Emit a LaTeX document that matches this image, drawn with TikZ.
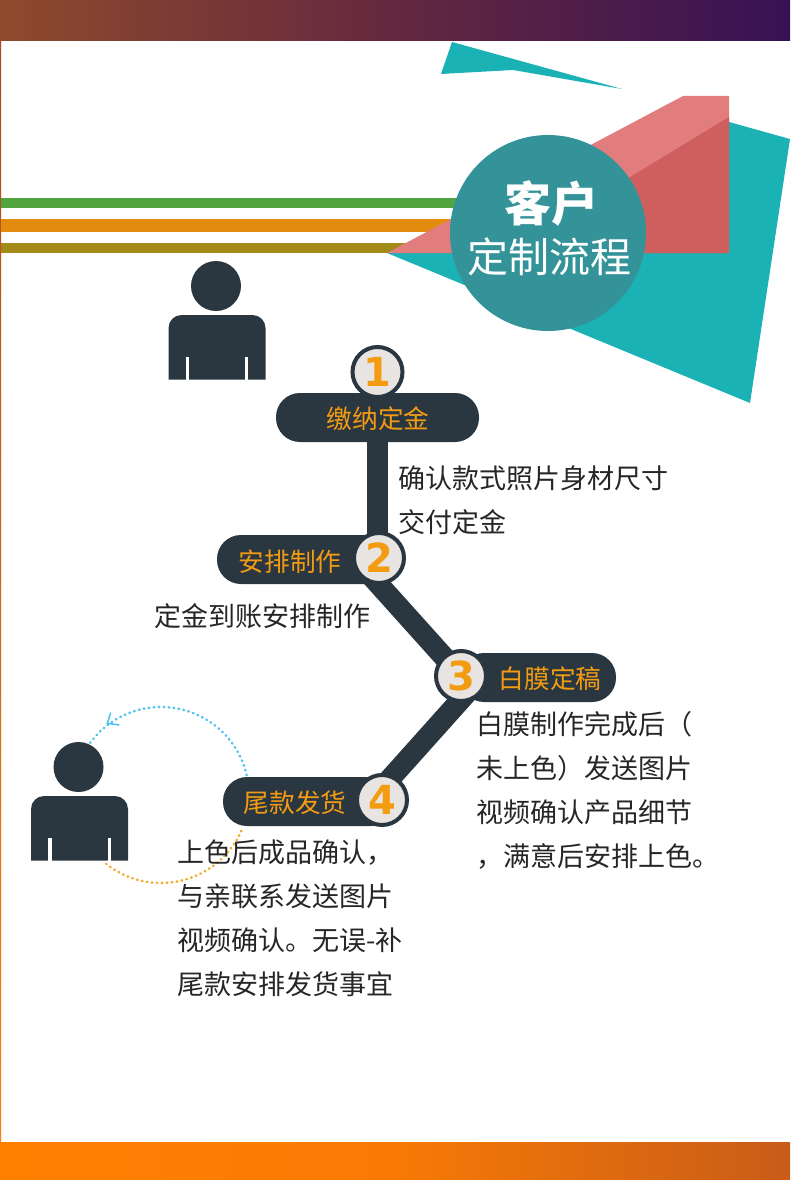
\documentclass[tikz,border=0pt]{standalone}
\usepackage{fontspec}
\usetikzlibrary{backgrounds}
\setmainfont{Noto Sans CJK SC}
\newfontfamily\numfont{DejaVu Sans}
\newcommand{\fsize}[2]{\fontsize{#1}{#2}\selectfont}
\newcommand{\person}[2]{\begin{scope}[shift={(#1,#2)}]\fill[darkslate](-1,-74)circle(25pt);\fill[darkslate](-48.5,19.5)--(-48.5,-32)arc[start angle=180,end angle=90,radius=13pt]--(35.5,-45)arc[start angle=90,end angle=0,radius=13pt]--(48.5,19.5)--cycle;\fill[white](-31.3,-3)rectangle(-28,20);\fill[white](28,-3)rectangle(31.3,20);\end{scope}}
\definecolor{darkslate}{HTML}{2A3640}
\definecolor{stepgold}{HTML}{F39C12}
\definecolor{tealbright}{HTML}{1AB2B5}
\definecolor{tealdeep}{HTML}{339398}
\definecolor{rosepale}{HTML}{E27D7D}
\definecolor{rosedark}{HTML}{CF5F5F}
\definecolor{discfill}{HTML}{E8E4E2}
\definecolor{dotblue}{HTML}{50C3EE}
\definecolor{dotgold}{HTML}{F5AA32}
\definecolor{stripegreen}{HTML}{50A541}
\definecolor{stripegold}{HTML}{E28B0F}
\definecolor{stripeolive}{HTML}{A38918}
\definecolor{headleft}{HTML}{8F4A2C}
\definecolor{headmid}{HTML}{64283F}
\definecolor{headright}{HTML}{371255}
\definecolor{footleft}{HTML}{FF8000}
\definecolor{footmid}{HTML}{F87A05}
\definecolor{footright}{HTML}{C85C18}
\definecolor{edgetop}{HTML}{AF461E}
\tikzset{
pill/.style={fill=darkslate,rounded corners=24pt,minimum height=49pt,inner sep=0pt},
numdisc/.style={circle,draw=darkslate,line width=4pt,fill=discfill,minimum size=50pt,inner sep=0pt,text=stepgold,font=\numfont\bfseries\fsize{40}{40}},
pilltext/.style={text=stepgold,inner sep=0pt,font=\fsize{25.7}{26}},
bodytext/.style={anchor=west,align=left,inner sep=0pt,text=black!85,font=\fsize{27}{44}},
spine/.style={draw=darkslate,line width=21pt},
dotline/.style={line width=2.6pt,line cap=round,dash pattern=on 0.6pt off 4.4pt}
}
\begin{document}
\begin{tikzpicture}[x=1pt,y=-1pt]
\useasboundingbox(0,0)rectangle(790,1180);
\shade[left color=headleft,right color=headright,middle color=headmid](0,0)rectangle(790,41);
\shade[left color=footleft,right color=footright,middle color=footmid](0,1142)rectangle(790,1180);
\shade[top color=edgetop,bottom color=footleft](0,41)rectangle(1,1142);
\fill[stripegreen](1,197.5)rectangle(470,207.5);\fill[stripegold](1,219)rectangle(470,232);\fill[stripeolive](1,243)rectangle(470,253);
\fill[tealbright](441,74)--(452,42)--(622,89)--(513,70)--cycle;
\fill[tealbright](387,253)--(729,122)--(790,139)--(750,403)--cycle;
\fill[rosepale](387,253)--(683,96)--(729,96)--(729,253)--cycle;
\fill[rosedark](729,117)--(505,253)--(729,253)--cycle;
\node[circle,fill=tealdeep,minimum size=196pt,inner sep=0pt](badge)at(548,233){};
\node[text=white,inner sep=0pt,font=\bfseries\fsize{47}{47}](title)at(551,204){客户};
\node[text=white,inner sep=0pt,font=\fsize{41}{41}](subtitle)at(549,257){定制流程};
\person{217}{360}
\person{79.5}{841}
\coordinate(loop)at(161,795);
\draw[dotline,draw=dotblue]([shift={(13:88pt)}]loop)arc[start angle=13,end angle=144,radius=88pt];
\draw[dotline,draw=dotgold]([shift={(-24:88pt)}]loop)arc[start angle=-24,end angle=-131,radius=88pt];
\draw[line width=1.6pt,draw=dotblue](110.7,712.7)--(107.3,723.3)--(119.3,725);
\node[pill,minimum width=203pt](pill1)at(377.5,417.5){};\node[pill,minimum width=173pt](pill2)at(303.5,559.5){};\node[pill,minimum width=156pt](pill3)at(538,677.5){};\node[pill,minimum width=172pt](pill4)at(309,801.5){};
\node[numdisc](num1)at(377.5,372){1};\node[numdisc](num2)at(379,558){2};\node[numdisc](num3)at(461,676){3};\node[numdisc](num4)at(382,800){4};
\begin{scope}[on background layer]
\draw[spine](num1.center)--(num1.center|-num2.center);\draw[spine]([xshift=-24pt]num2.center)--(num3.center);\draw[spine]([xshift=21pt]num3.center)--([xshift=-11pt]num4.center);
\end{scope}
\node[pilltext](lbl1)at(378,419){缴纳定金};\node[pilltext](lbl2)at(290,562){安排制作};\node[pilltext](lbl3)at(550,679){白膜定稿};\node[pilltext](lbl4)at(295,803){尾款发货};
\node[bodytext](note1)at(398,500){确认款式照片身材尺寸\\交付定金};
\node[bodytext](note2)at(154,616){定金到账安排制作};
\node[bodytext](note3)at(476.5,790){白膜制作完成后（\\未上色）发送图片\\视频确认产品细节\\，满意后安排上色。};
\node[bodytext](note4)at(177,918){上色后成品确认，\\与亲联系发送图片\\视频确认。无误-补\\尾款安排发货事宜};
\end{tikzpicture}
\end{document}
